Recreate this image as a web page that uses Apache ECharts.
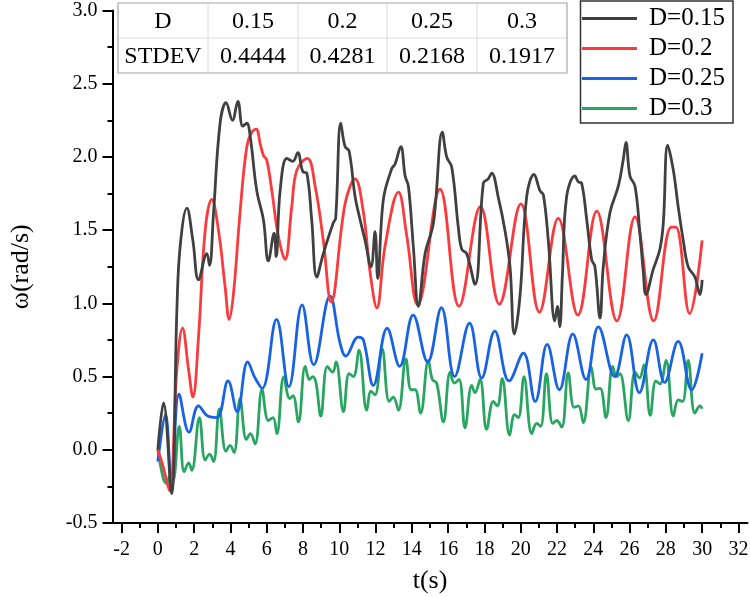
<!DOCTYPE html>
<html>
<head>
<meta charset="utf-8">
<script src="https://cdn.jsdelivr.net/npm/echarts@6/dist/echarts.min.js"></script>
<style>
html,body{margin:0;padding:0;background:#fff;}
#chart{width:750px;height:597px;}
</style>
</head>
<body>
<div id="chart"></div>
<script>
// ---------- data ----------
const seriesNames = ['D=0.15', 'D=0.2', 'D=0.25', 'D=0.3'];

const tD015 = [0,0.31,0.75,1.05,1.23,1.60,1.93,2.24,2.70,2.85,3.07,3.43,3.76,4.11,4.41,4.68,4.90,5.09,5.45,5.82,6.09,6.41,6.52,6.74,7.11,7.44,7.71,7.99,8.21,8.48,8.76,9.12,9.67,9.80,10.08,10.32,10.54,10.87,11.15,11.42,11.75,11.97,12.12,12.43,12.89,13.07,13.39,13.63,13.81,14.08,14.36,14.73,15.19,15.68,15.92,16.20,16.56,16.75,17.02,17.48,17.94,18.21,18.40,18.77,19.13,19.41,19.65,19.96,20.33,20.73,21.06,21.25,21.52,21.88,22.02,22.15,22.30,22.53,22.99,23.17,23.36,23.64,23.91,24.09,24.37,24.55,24.92,25.38,25.65,25.80,26.02,26.30,26.57,26.76,26.90,27.30,27.67,27.86,28.10,28.41,28.68,28.96,29.23,29.60,29.88,30.0];
const vD015 = [0,0.32,-0.30,0.96,1.39,1.65,1.43,1.16,1.34,1.26,1.62,2.23,2.37,2.25,2.38,2.21,2.23,2.14,1.77,1.57,1.29,1.48,1.32,1.77,1.99,1.97,2.03,1.90,1.89,1.57,1.18,1.34,1.55,1.58,2.23,2.07,2.04,1.73,1.57,1.43,1.25,1.49,1.17,1.71,1.92,1.95,2.07,1.87,1.80,1.39,0.98,1.34,1.55,2.17,2.00,1.93,1.52,1.37,1.34,1.13,1.82,1.85,1.89,1.72,1.50,1.25,0.79,1.05,1.73,1.88,1.77,1.74,1.43,0.88,0.98,0.84,1.20,1.73,1.87,1.83,1.82,1.57,1.30,1.25,0.90,1.25,1.62,1.80,1.98,2.10,1.87,1.80,1.48,1.21,1.06,1.23,1.37,1.55,2.08,1.91,1.66,1.43,1.25,1.18,1.06,1.16];

const tD02 = [0,0.30,0.64,1.05,1.36,1.69,1.93,2.24,2.61,2.97,3.34,3.71,3.93,4.17,4.53,4.90,5.18,5.42,5.64,5.82,6.00,6.28,6.64,7.01,7.38,7.66,8.24,8.67,9.12,9.55,10.32,10.87,11.33,11.70,12.07,12.52,13.26,13.72,14.32,15.55,16.60,17.78,18.82,20.01,21.03,22.07,23.15,24.19,25.30,26.30,27.33,28.30,28.55,29.31,30.0];
const vD02 = [0,-0.12,-0.28,0.55,0.83,0.55,0.36,0.77,1.50,1.71,1.50,1.11,0.89,1.07,1.62,2.07,2.17,2.19,2.09,2.01,1.98,1.77,1.46,1.30,1.66,1.91,1.99,1.80,1.43,1.01,1.68,1.85,1.62,1.21,0.97,1.39,1.76,1.46,0.99,1.78,0.98,1.66,0.995,1.68,0.94,1.58,0.92,1.63,0.88,1.59,0.88,1.52,1.52,0.93,1.43];

const tD025 = [0,0.42,0.75,1.17,1.72,2.24,2.75,3.25,3.87,4.37,4.95,5.36,5.75,6.54,7.22,7.95,8.59,9.49,10.04,10.36,11.05,11.33,11.88,12.64,13.33,14.07,14.87,15.63,16.36,17.18,17.85,18.57,19.36,20.15,20.80,21.46,22.13,22.87,23.60,24.28,25.18,25.84,26.54,27.31,27.93,28.68,29.42,30.0];
const vD025 = [-0.08,0.24,-0.24,0.38,0.12,0.30,0.23,0.22,0.47,0.26,0.60,0.49,0.42,0.89,0.43,0.99,0.58,1.05,0.73,0.64,0.77,0.75,0.44,0.83,0.57,0.92,0.60,0.97,0.50,0.865,0.49,0.81,0.47,0.66,0.33,0.72,0.41,0.79,0.48,0.84,0.50,0.785,0.39,0.75,0.46,0.74,0.41,0.66];

const tD03 = [0,0.31,0.49,0.66,0.82,1.18,1.45,1.70,1.87,2.29,2.61,2.85,3.07,3.39,3.75,3.98,4.20,4.53,4.88,5.10,5.36,5.74,6.09,6.35,6.56,6.94,7.27,7.45,7.75,8.12,8.36,8.54,8.72,8.98,9.34,9.64,9.82,10.23,10.54,10.78,11.09,11.51,11.75,11.97,12.36,12.75,12.98,13.26,13.67,13.96,14.18,14.48,14.91,15.13,15.37,15.74,16.11,16.34,16.60,16.93,17.30,17.48,17.76,18.12,18.49,18.71,18.98,19.39,19.66,19.87,20.18,20.61,20.88,21.10,21.42,21.76,21.98,22.26,22.62,22.94,23.18,23.45,23.89,24.15,24.38,24.70,25.07,25.29,25.47,25.93,26.30,26.55,26.79,27.14,27.45,27.68,28.01,28.41,28.68,28.92,29.23,29.60,29.88,30.0];
const vD03 = [0,-0.20,-0.23,-0.18,-0.22,0.16,-0.15,-0.09,-0.14,0.22,-0.07,-0.03,-0.08,0.28,-0.01,0.03,-0.02,0.35,0.07,0.11,0.04,0.41,0.20,0.22,0.11,0.50,0.35,0.37,0.19,0.57,0.48,0.50,0.455,0.23,0.57,0.53,0.60,0.26,0.52,0.50,0.68,0.27,0.40,0.375,0.69,0.33,0.36,0.27,0.62,0.41,0.41,0.25,0.61,0.48,0.455,0.19,0.53,0.455,0.48,0.15,0.44,0.39,0.48,0.14,0.33,0.30,0.485,0.10,0.24,0.22,0.50,0.11,0.18,0.16,0.52,0.18,0.20,0.155,0.525,0.29,0.30,0.185,0.565,0.415,0.42,0.22,0.57,0.50,0.52,0.20,0.53,0.49,0.58,0.235,0.47,0.45,0.61,0.23,0.34,0.33,0.61,0.25,0.30,0.28];

const xMajorTicks = [-2,0,2,4,6,8,10,12,14,16,18,20,22,24,26,28,30,32];
const xMinorTicks = [-1,1,3,5,7,9,11,13,15,17,19,21,23,25,27,29,31];

const tableHeader = ['D', '0.15', '0.2', '0.25', '0.3'];
const tableStdev = ['STDEV', '0.4444', '0.4281', '0.2168', '0.1917'];

// ---------- build ----------
const colors = ['#404040', '#fb3a3e', '#1763e3', '#28a560'];
const tArrs = [tD015, tD02, tD025, tD03];
const vArrs = [vD015, vD02, vD025, vD03];
function zip(t, v) { return t.map((x, i) => [x, v[i]]); }

const FONT = '"Liberation Serif", "Times New Roman", serif';

const series = seriesNames.map((name, i) => ({
  name: name,
  type: 'line',
  xAxisIndex: 0,
  yAxisIndex: 0,
  data: zip(tArrs[i], vArrs[i]),
  showSymbol: false,
  symbol: 'none',
  smooth: 0.4,
  color: colors[i],
  lineStyle: { color: colors[i], width: 2.8 },
  z: 2 + (3 - i)
}));

// table graphic + legend frame
const colX = [118, 208, 298, 387, 477, 567];
const rowY = [3, 38, 73];
const gEls = [];
gEls.push({ type: 'rect', shape: { x: colX[0], y: rowY[0], width: colX[5] - colX[0], height: rowY[2] - rowY[0] }, style: { fill: '#fff', stroke: 'none' }, z: 100 });
for (let c = 1; c < 5; c++) {
  gEls.push({ type: 'line', shape: { x1: colX[c], y1: rowY[0], x2: colX[c], y2: rowY[2] }, style: { stroke: '#dcdcdc', lineWidth: 1 }, z: 101 });
}
gEls.push({ type: 'line', shape: { x1: colX[0], y1: rowY[1], x2: colX[5], y2: rowY[1] }, style: { stroke: '#dcdcdc', lineWidth: 1 }, z: 101 });
gEls.push({ type: 'rect', shape: { x: colX[0], y: rowY[0], width: colX[5] - colX[0], height: rowY[2] - rowY[0] }, style: { fill: 'none', stroke: '#a6a6a6', lineWidth: 1.2 }, z: 102 });
[tableHeader, tableStdev].forEach((row, r) => {
  row.forEach((txt, c) => {
    gEls.push({
      type: 'text', z: 103,
      style: { text: txt, x: (colX[c] + colX[c + 1]) / 2, y: (rowY[r] + rowY[r + 1]) / 2 + 1, align: 'center', verticalAlign: 'middle', font: '24px ' + FONT, fill: '#000' }
    });
  });
});
// legend frame
gEls.push({ type: 'rect', shape: { x: 580.5, y: 1, width: 152.5, height: 122 }, style: { fill: '#fff', stroke: '#333', lineWidth: 1.5 }, z: 40 });

const chart = echarts.init(document.getElementById('chart'), null, { renderer: 'canvas' });
chart.setOption({
  animation: false,
  backgroundColor: '#fff',
  grid: { left: 112.5, right: 2.5, top: 10.5, bottom: 74, containLabel: false, outerBoundsMode: 'none' },
  legend: {
    data: seriesNames,
    orient: 'vertical',
    left: 582, top: 6,
    padding: 0,
    itemGap: 5,
    itemWidth: 55, itemHeight: 3,
    icon: 'rect',
    borderWidth: 0,
    formatter: name => '{t|' + name + '}',
    textStyle: {
      fontFamily: FONT, fontSize: 25, lineHeight: 24, color: '#000',
      rich: { t: { fontFamily: FONT, fontSize: 25, lineHeight: 24, color: '#000', padding: [0, 0, 0, 7] } }
    },
    z: 50
  },
  xAxis: [{
    type: 'value', min: -2.5, max: 32.5,
    name: 't(s)', nameLocation: 'middle', nameGap: 45,
    nameTextStyle: { fontFamily: FONT, fontSize: 26, color: '#000' },
    axisLine: { show: true, onZero: false, lineStyle: { color: '#000', width: 2 } },
    axisTick: { show: true, length: 10, customValues: xMajorTicks, lineStyle: { color: '#000', width: 2 } },
    axisLabel: { show: true, customValues: xMajorTicks, fontFamily: FONT, fontSize: 20, color: '#000', margin: 17 },
    splitLine: { show: false }
  }, {
    type: 'value', min: -2.5, max: 32.5, position: 'bottom',
    axisLine: { show: false, onZero: false },
    axisTick: { show: true, length: 5, customValues: xMinorTicks, lineStyle: { color: '#000', width: 2 } },
    axisLabel: { show: false },
    splitLine: { show: false }
  }],
  yAxis: {
    type: 'value', min: -0.5, max: 3.0, interval: 0.5,
    name: 'ω(rad/s)', nameLocation: 'middle', nameGap: 78, nameRotate: 90,
    nameTextStyle: { fontFamily: FONT, fontSize: 26, color: '#000' },
    axisLine: { show: true, onZero: false, lineStyle: { color: '#000', width: 2 } },
    axisTick: { show: true, length: 10, lineStyle: { color: '#000', width: 2 } },
    minorTick: { show: true, splitNumber: 2, length: 5, lineStyle: { color: '#000', width: 2 } },
    axisLabel: { fontFamily: FONT, fontSize: 20, color: '#000', margin: 15, formatter: v => v.toFixed(1) },
    splitLine: { show: false },
    minorSplitLine: { show: false }
  },
  graphic: { elements: gEls },
  series: series
});
</script>
</body>
</html>
